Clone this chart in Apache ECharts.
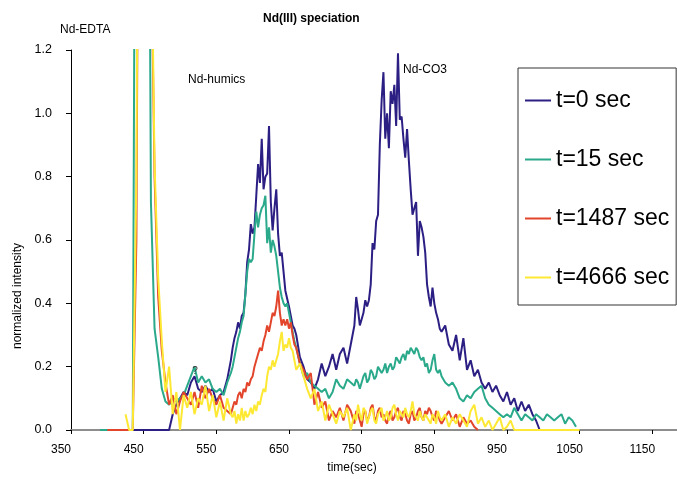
<!DOCTYPE html>
<html>
<head>
<meta charset="utf-8">
<script src="https://cdn.jsdelivr.net/npm/echarts@6/dist/echarts.min.js"></script>
<style>
html,body{margin:0;padding:0;background:#fff;}
#chart{width:677px;height:479px;}
</style>
</head>
<body>
<div id="chart"></div>
<script>
// time axis (sec) — finer sampling across the two main peaks
const time = [
  // A: 385-570
  385,390,395,400,405,410,415,420,425,430,
  435,440,445,450,455,460,465,470,475,480,
  485,490,495,500,505,510,515,520,525,530,
  535,540,545,550,555,560,565,570,
  // B: 572.5-660
  572.5,575,577.5,580,582.5,585,587.5,590,592.5,595,
  597.5,600,602.5,605,607.5,610,612.5,615,617.5,620,
  622.5,625,627.5,630,632.5,635,637.5,640,642.5,645,
  647.5,650,652.5,655,657.5,660,
  // C: 665-735
  665,670,675,680,685,690,695,700,705,710,715,720,725,730,735,
  // D: 740-860
  740,742.5,745,747.5,750,752.5,755,757.5,760,762.5,
  765,767.5,770,772.5,775,777.5,780,782.5,785,787.5,
  790,792.5,795,797.5,800,802.5,805,807.5,810,812.5,
  815,817.5,820,822.5,825,827.5,830,832.5,835,837.5,
  840,842.5,845,847.5,850,852.5,855,857.5,860,
  // E: 865-1050
  865,870,875,880,
  885,890,895,900,905,910,915,920,925,930,
  935,940,945,950,955,960,965,970,975,980,
  985,990,995,1000,1005,1010,1015,1020,1025,1030,
  1035,1040,1045,1050
];
const seriesNames = ['t=0 sec','t=15 sec','t=1487 sec','t=4666 sec'];
const t0 = [
  null,null,null,null,null,null,null,null,null,0,
  0,0,0,0,0,0,0,0,0,0,
  0,0.05,0.08,0.10,0.12,0.11,0.15,0.17,0.13,0.12,
  0.14,0.12,0.13,0.09,0.11,0.12,0.16,0.22,
  0.26,0.29,0.31,0.34,0.32,0.36,0.37,0.43,0.53,0.57,
  0.65,0.62,0.64,0.74,0.84,0.78,0.92,0.76,0.80,0.81,
  0.96,0.72,0.63,0.70,0.76,0.62,0.55,0.56,0.50,0.44,
  0.44,0.39,0.36,0.33,0.32,0.30,
  0.23,0.20,0.16,0.15,0.13,0.16,0.21,0.17,0.20,0.24,0.19,0.24,0.26,0.21,0.27,
  0.33,0.42,0.38,0.33,0.35,0.37,0.41,0.39,0.41,0.46,
  0.59,0.57,0.66,0.68,0.90,1.04,1.13,0.92,1.00,0.89,
  1.07,1.03,1.09,0.96,1.19,0.98,0.99,0.92,0.86,0.95,
  0.85,0.76,0.68,0.70,0.72,0.55,0.66,0.64,0.61,0.56,
  0.46,0.42,0.39,0.45,0.40,0.37,0.35,0.32,0.31,
  0.33,0.27,0.25,0.30,
  0.22,0.29,0.19,0.22,0.17,0.19,0.15,0.13,0.15,0.12,
  0.14,0.11,0.09,0.12,0.08,0.10,0.06,0.09,0.06,0.08,
  0.05,0.03,0,null,null,null,null,null,null,null,
  null,null,null,null
];
const t15 = [
  null,0,0,0,0,0,0,0,0,0,
  0,3,3,3,3,0.72,0.32,0.23,0.13,0.09,
  0.08,0.10,0.09,0.10,0.11,0.14,0.17,0.20,0.15,0.17,
  0.15,0.16,0.13,0.12,0.13,0.11,0.15,0.18,
  0.20,0.23,0.26,0.29,0.31,0.34,0.36,0.43,0.50,0.54,
  0.53,0.54,0.62,0.69,0.64,0.68,0.70,0.71,0.74,0.59,
  0.64,0.56,0.60,0.58,0.55,0.50,0.45,0.42,0.40,0.39,
  0.40,0.37,0.34,0.31,0.28,0.26,
  0.21,0.17,0.18,0.15,0.14,0.13,0.12,0.13,0.10,0.12,0.16,0.14,0.13,0.16,0.15,
  0.14,0.16,0.15,0.13,0.15,0.17,0.18,0.15,0.16,0.19,
  0.18,0.16,0.17,0.20,0.20,0.18,0.19,0.21,0.18,0.20,
  0.21,0.19,0.20,0.23,0.22,0.21,0.23,0.24,0.22,0.25,
  0.24,0.26,0.25,0.24,0.26,0.25,0.23,0.22,0.23,0.20,
  0.21,0.18,0.19,0.22,0.24,0.19,0.18,0.19,0.17,
  0.15,0.14,0.15,0.13,
  0.10,0.09,0.11,0.10,0.12,0.13,0.14,0.10,0.08,0.07,
  0.06,0.05,0.04,0.05,0.04,0.07,0.05,0.03,0.05,0.04,
  0.03,0.05,0.04,0.03,0.05,0.04,0.03,0.04,0.05,0.02,
  0.04,0.03,0.01,null
];
const t1487 = [
  null,null,null,0,0,0,0,0,0,0,
  0,0.6,3,3,3,1.6,0.8,0.42,0.25,0.15,
  0.08,0.11,0.05,0.09,0.12,0.10,0.08,0.12,0.07,0.14,
  0.10,0.13,0.10,0.08,0.11,0.07,0.06,0.05,
  0.07,0.09,0.08,0.11,0.12,0.10,0.13,0.12,0.15,0.14,
  0.16,0.17,0.20,0.22,0.24,0.26,0.25,0.28,0.30,0.33,
  0.31,0.34,0.37,0.36,0.39,0.44,0.37,0.33,0.35,0.33,
  0.35,0.32,0.34,0.30,0.27,0.26,
  0.21,0.19,0.16,0.18,0.08,0.12,0.07,0.09,0.03,0.06,0.04,0.07,0.03,0.08,0.06,
  0.02,0.06,0.05,0.03,0.01,0.05,0.06,0.03,0.04,0.07,
  0.08,0.04,0.03,0.06,0.07,0.04,0.05,0.03,0.02,0.05,
  0.06,0.03,0.04,0.06,0.07,0.04,0.03,0.06,0.05,0.03,
  0.02,0.05,0.06,0.03,0.04,0.06,0.07,0.04,0.03,0.06,
  0.05,0.07,0.06,0.04,0.03,0.06,0.05,0.03,0.02,
  0.04,0.06,0.03,0.05,
  0.01,0.04,0.02,0.03,0.01,0,null,null,null,null,
  null,null,null,null,null,null,null,null,null,null,
  null,null,null,null,null,null,null,null,null,null,
  null,null,null,null
];
const t4666 = [
  null,null,null,null,null,null,null,null,0.05,0,
  0,0.8,3,3,3,1.7,0.84,0.48,0.28,0.12,
  0.20,0.05,0.12,0,0.11,0.07,0.12,0.05,0.10,0.08,
  0.14,0.06,0.11,0.04,0.09,0.03,0.10,0.05,
  0.04,0.06,0.02,0.05,0.03,0.07,0.03,0.06,0.04,0.05,
  0.07,0.05,0.08,0.06,0.09,0.08,0.11,0.13,0.12,0.17,
  0.20,0.19,0.22,0.20,0.22,0.24,0.28,0.31,0.25,0.27,
  0.26,0.29,0.26,0.25,0.22,0.19,
  0.21,0.17,0.13,0.10,0.13,0.06,0.09,0.03,0.08,0.05,0.02,0.06,0.04,0.07,0,
  0.05,0.03,0.08,0.05,0.03,0.07,0.06,0.02,0.04,0.06,
  0.07,0.03,0.02,0.05,0.05,0.07,0.03,0.04,0.06,0.03,
  0.04,0.07,0.08,0.05,0.03,0.06,0.05,0.04,0.07,0.05,
  0.04,0.06,0.09,0.05,0.05,0.03,0.06,0.04,0.03,0.05,
  0.05,0.03,0.02,0.05,0.04,0.02,0.06,0.04,0.03,
  0.05,0.01,0.04,0.02,
  0.05,0.03,0.01,0.06,0.08,0.02,0.04,0.01,0.03,0,
  0.02,0.04,0,0.01,0.03,0,0,0,0,0,
  0,0,0,0,0,0,0,0,0,0,
  0,0,0,0
];
const seriesValues = [t0, t15, t1487, t4666];
const colors = ['#2c1f84', '#2aa98b', '#e2452b', '#fde834'];
const yTicks = [0, 0.2, 0.4, 0.6, 0.8, 1.0, 1.2];

const FONT = 'Arial, "Liberation Sans", sans-serif';
const chart = echarts.init(document.getElementById('chart'), null, {renderer: 'canvas'});

const series = seriesNames.map((name, k) => ({
  name: name,
  type: 'line',
  data: time.map((t, i) => [t, seriesValues[k][i]]),
  showSymbol: false,
  symbol: 'none',
  connectNulls: false,
  clip: true,
  lineStyle: {color: colors[k], width: 2},
  itemStyle: {color: colors[k]},
  z: 2 + k
}));

chart.setOption({
  animation: false,
  backgroundColor: '#fff',
  grid: {left: 71, right: 0, top: 50, bottom: 49, containLabel: false},
  xAxis: [{
    type: 'value', min: 350, max: 1184, interval: 100,
    axisLine: {show: true, onZero: false, lineStyle: {color: '#000', width: 1.5}},
    axisTick: {show: true, inside: false, length: 4, lineStyle: {color: '#000'}},
    axisLabel: {
      show: true, color: '#000', fontSize: 12, fontFamily: FONT, margin: 14,
      padding: [0, 20, 0, 0], showMaxLabel: false,
      formatter: v => (v % 50 === 0 ? String(v) : '')
    },
    splitLine: {show: false}
  }, {
    type: 'value', position: 'top', min: 350, max: 1184,
    axisLine: {show: true, lineStyle: {color: '#a8a8a8', width: 1.5}},
    axisTick: {show: false}, axisLabel: {show: false}, splitLine: {show: false}
  }],
  yAxis: {
    type: 'value', min: yTicks[0], max: yTicks[yTicks.length - 1], interval: 0.2,
    axisLine: {show: true, onZero: false, lineStyle: {color: '#000', width: 1}},
    axisTick: {show: true, inside: false, length: 5, lineStyle: {color: '#000'}},
    axisLabel: {color: '#000', fontSize: 12.5, fontFamily: FONT, margin: 19,
      formatter: v => v.toFixed(1)},
    splitLine: {show: false}
  },
  legend: {
    data: seriesNames,
    orient: 'vertical',
    left: 518, top: 68,
    padding: [21, 7, 16, 7],
    itemGap: 36,
    itemWidth: 26, itemHeight: 2,
    icon: 'rect',
    backgroundColor: '#fff',
    borderColor: '#333', borderWidth: 1, borderRadius: 0,
    textStyle: {color: '#000', fontSize: 23, fontFamily: FONT, lineHeight: 23}
  },
  graphic: [
    {type: 'text', left: 315 - 52, top: 13, z: 100,
      style: {text: 'Nd(III) speciation', font: 'bold 12px ' + FONT, fill: '#000'}},
    {type: 'text', x: 60, y: 30, z: 100,
      style: {text: 'Nd-EDTA', font: '12px ' + FONT, fill: '#000', verticalAlign: 'middle'}},
    {type: 'text', x: 188, y: 80, z: 100,
      style: {text: 'Nd-humics', font: '12px ' + FONT, fill: '#000', verticalAlign: 'middle'}},
    {type: 'text', x: 403, y: 70, z: 100,
      style: {text: 'Nd-CO3', font: '12px ' + FONT, fill: '#000', verticalAlign: 'middle'}},
    {type: 'text', x: 195, y: 371, z: 100,
      style: {text: '?', font: '10px ' + FONT, fill: '#333', align: 'center', verticalAlign: 'middle'}},
    {type: 'text', x: 352, y: 468, z: 100,
      style: {text: 'time(sec)', font: '12px ' + FONT, fill: '#000', align: 'center', verticalAlign: 'middle'}},
    {type: 'text', x: 18, y: 296, rotation: Math.PI / 2, z: 100,
      style: {text: 'normalized intensity', font: '12px ' + FONT, fill: '#000', align: 'center', verticalAlign: 'middle'}}
  ],
  series: series
});
</script>
</body>
</html>
